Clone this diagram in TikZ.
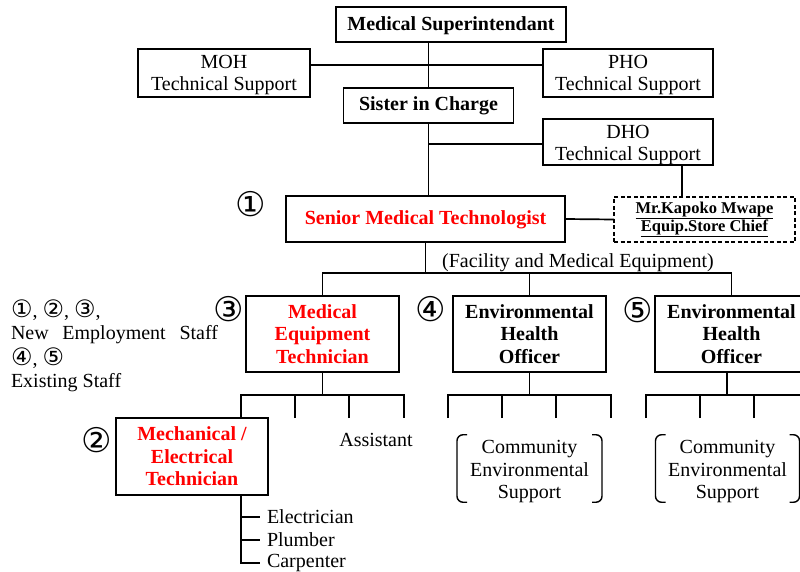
\documentclass[tikz,border=0pt]{standalone}
\usepackage{fontspec}
\setmainfont{Liberation Serif}
\newfontfamily\circfont{DejaVu Sans}
\newcommand{\lc}[1]{{\circfont\fontsize{24}{22}\selectfont #1}}
\newcommand{\dn}[2][2]{\raisebox{-#1pt}[\height][\depth]{\begin{tabular}{@{}c@{}}#2\end{tabular}}}
\begin{document}
\begin{tikzpicture}[x=1pt,y=-1pt,line width=1.7pt,
  every node/.style={inner sep=0pt,outer sep=0pt,font=\fontsize{20}{22.5}\selectfont},
  box/.style={draw,rectangle,align=center},
  bbox/.style={box,font=\fontsize{20}{22.5}\selectfont\bfseries},
  rbox/.style={bbox,text=red},
  txt/.style={align=center},
  circ/.style={font=\fontsize{34}{34}\selectfont\circfont},
  brk/.style={rounded corners=6pt,line width=1.4pt}]
\useasboundingbox (0,0) rectangle (800,572);
% top part
\node[bbox,minimum width=230pt,minimum height=35pt] (ms) at (451,24.5) {\dn{Medical Superintendant}};
\node[box,minimum width=172pt,minimum height=48pt] (moh) at (224,73) {\dn{MOH\\Technical Support}};
\node[box,minimum width=170pt,minimum height=48pt] (pho) at (628,73) {\dn{PHO\\Technical Support}};
\node[bbox,minimum width=170pt,minimum height=35pt] (sic) at (428.5,105.5) {\dn[1]{Sister in Charge}};
\node[box,minimum width=170pt,minimum height=46pt] (dho) at (628,142) {\dn[3]{DHO\\Technical Support}};
\node[rbox,minimum width=279pt,minimum height=46pt] (smt) at (425.5,219) {\dn[1]{Senior Medical Technologist}};
\node[draw,dashed,line width=1.6pt,dash pattern=on 4pt off 2.5pt,minimum width=181pt,minimum height=45pt,align=center,
  font=\fontsize{16.5}{17}\selectfont\bfseries] (store) at (704.5,219.5) {\underline{Mr.Kapoko Mwape}\\\underline{Equip.Store Chief}};
\coordinate (dx) at (682,0);
\coordinate (dj) at (428.5,144);
\draw ([yshift=8pt]moh.east) -- ([yshift=8pt]pho.west);
\draw (sic.north) -- (sic.north |- ms.south);
\draw (sic.south) -- (sic.south |- smt.north);
\draw (dj) -- (dj -| dho.west);
\draw (dho.south -| dx) -- (store.north -| dx);
\draw (smt.east) -- (store.west);
% second level
\node[rbox,minimum width=153pt,minimum height=76pt] (met) at (322.5,334) {Medical\\Equipment\\Technician};
\node[bbox,minimum width=153pt,minimum height=76pt] (eho1) at (529.5,334) {Environmental\\Health\\Officer};
\node[bbox,minimum width=153pt,minimum height=76pt] (eho2) at (731.5,334) {Environmental\\Health\\Officer};
\coordinate (b1) at (0,273);
\draw (smt.south) -- (smt.south |- b1);
\draw (met.north) -- (met.north |- b1) -- (eho2.north |- b1) -- (eho2.north);
\draw (eho1.north) -- (eho1.north |- b1);
\node[txt] (fac) at (578,263) {(Facility and Medical Equipment)};
% circled numbers
\node[circ] (c1) at (251,204) {①};
\node[circ] (c2) at (97,440) {②};
\node[circ] (c3) at (229,309) {③};
\node[circ] (c4) at (431,309) {④};
\node[circ] (c5) at (638,310) {⑤};
% legend
\node[anchor=west] (lg1) at (11,310) {\lc{①},\ \lc{②},\ \lc{③},};
\node[anchor=west] (lg2) at (11,335) {\makebox[207pt][s]{New Employment Staff}};
\node[anchor=west] (lg3) at (11,358) {\lc{④},\ \lc{⑤}};
\node[anchor=west] (lg4) at (11,383) {Existing Staff};
% under MET
\node[rbox,minimum width=152pt,minimum height=77pt] (mec) at (192,456.5) {Mechanical /\\Electrical\\Technician};
\coordinate (b2) at (0,395);
\coordinate (m1) at (241,418);
\coordinate (m2) at (295,418);
\coordinate (m3) at (349,418);
\coordinate (m4) at (404,418);
\draw (met.south) -- (met.south |- b2);
\draw (m1) -- (m1 |- b2) -- (m4 |- b2) -- (m4);
\draw (m2) -- (m2 |- b2);
\draw (m3) -- (m3 |- b2);
\node[txt] (asst) at (376,440) {Assistant};
\node[anchor=west] (el) at (267,517) {Electrician};
\node[anchor=west] (pl) at (267,540) {Plumber};
\node[anchor=west] (ca) at (267,563) {Carpenter};
\coordinate (mx) at (241,0);
\draw (mec.south -| mx) -- (mx |- ca.west) -- ([xshift=-7pt]ca.west);
\draw (mx |- el.west) -- ([xshift=-7pt]el.west);
\draw (mx |- pl.west) -- ([xshift=-7pt]pl.west);
% under EHO1
\coordinate (e1) at (448,418);
\coordinate (e2) at (502,418);
\coordinate (e3) at (556,418);
\coordinate (e4) at (611,418);
\draw (eho1.south) -- (eho1.south |- b2);
\draw (e1) -- (e1 |- b2) -- (e4 |- b2) -- (e4);
\draw (e2) -- (e2 |- b2);
\draw (e3) -- (e3 |- b2);
% under EHO2
\coordinate (f0) at (727,0);
\coordinate (f1) at (646,418);
\coordinate (f2) at (700,418);
\coordinate (f3) at (754,418);
\coordinate (f4) at (808,418);
\draw (eho2.south -| f0) -- (f0 |- b2);
\draw (f1) -- (f1 |- b2) -- (f4 |- b2) -- (f4);
\draw (f2) -- (f2 |- b2);
\draw (f3) -- (f3 |- b2);
% community
\node[minimum width=145pt,minimum height=53pt] (cm1) at (529.5,468.5) {\dn[3]{Community\\Environmental\\Support}};
\node[minimum width=144pt,minimum height=53pt] (cm2) at (727.5,468.5) {\dn[3]{Community\\Environmental\\Support}};
\foreach \n in {cm1,cm2}{
  \draw[brk] ([xshift=10pt]\n.north west) -- (\n.north west) -- (\n.south west) -- ([xshift=10pt]\n.south west);
  \draw[brk] ([xshift=-10pt]\n.north east) -- (\n.north east) -- (\n.south east) -- ([xshift=-10pt]\n.south east);
}
\end{tikzpicture}
\end{document}
